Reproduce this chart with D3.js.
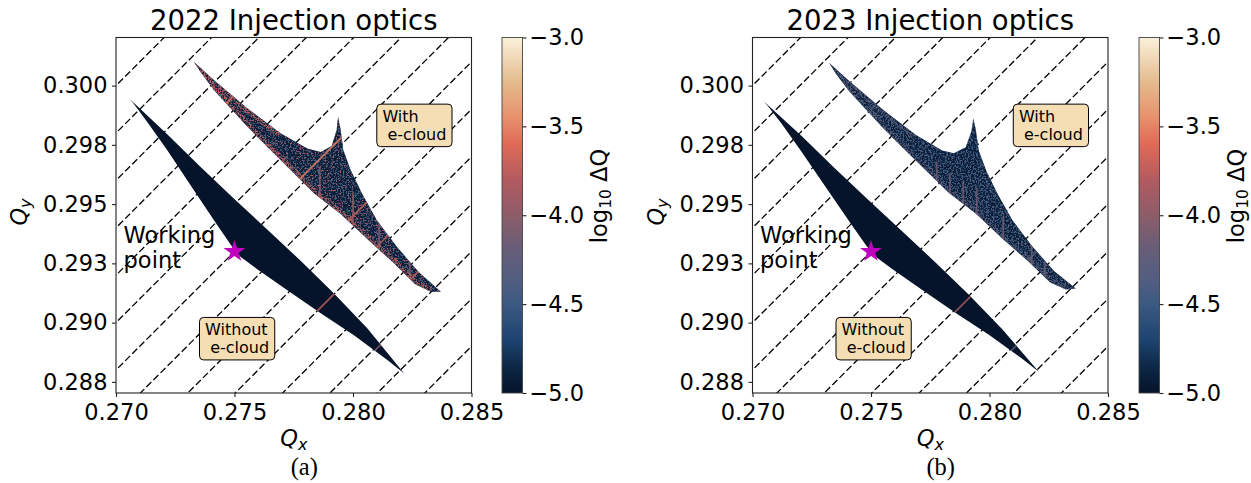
<!DOCTYPE html>
<html>
<head>
<meta charset="utf-8">
<script src="https://cdn.jsdelivr.net/npm/d3@7"></script>
<style>
  body { margin: 0; background: #fff; }
  text { font-family: "DejaVu Sans", sans-serif; fill: #000; }
</style>
</head>
<body>
<svg id="chart" width="1251" height="483"></svg>
<script>
// ---- ticks ----
const xTicks = [0.270, 0.275, 0.280, 0.285];
const xTickLabels = ["0.270", "0.275", "0.280", "0.285"];
const yTicks = [0.2875, 0.2900, 0.2925, 0.2950, 0.2975, 0.3000];
const yTickLabels = ["0.288", "0.290", "0.293", "0.295", "0.298", "0.300"];
const cbarTicks = [-5.0, -4.5, -4.0, -3.5, -3.0];
const cbarTickLabels = ["\u22125.0", "\u22124.5", "\u22124.0", "\u22123.5", "\u22123.0"];

// ---- colormap (log10 dQ -> colour) ----
const cmapValues = [-5.0, -4.85, -4.7, -4.5, -4.35, -4.2, -4.0, -3.8, -3.6, -3.45, -3.25, -3.0];
const cmapColors = ["#05142a", "#0d2846", "#1d4470", "#3c5980", "#535e80", "#665d79",
                    "#8c5d69", "#b35a5f", "#df6a57", "#e8906c", "#e4bb8d", "#fbf1dc"];

// ---- diagonal resonance lines Qy = Qx + c ----
const resonanceC = [0.004, 0.006, 0.008, 0.010, 0.012, 0.014, 0.016, 0.018,
                    0.020, 0.022, 0.024, 0.026, 0.028, 0.030];

const workingPoint = [0.275, 0.293];

// ---- footprint outlines (Qx, Qy) ----
const noEcloud2022Qx = [0.27058, 0.27215, 0.27356, 0.27497, 0.27638, 0.27779, 0.27920, 0.28061, 0.28216,
                        0.28145, 0.28004, 0.27864, 0.27723, 0.27596, 0.27525, 0.27490, 0.27427, 0.27328,
                        0.27215, 0.27131, 0.27075];
const noEcloud2022Qy = [0.29944, 0.29796, 0.29658, 0.29524, 0.29393, 0.29261, 0.29123, 0.28975, 0.28785,
                        0.28842, 0.28947, 0.29039, 0.29137, 0.29225, 0.29278, 0.29320, 0.29412, 0.29560,
                        0.29729, 0.29848, 0.29923];
const ecloud2022Qx = [0.27328, 0.27413, 0.27554, 0.27694, 0.27807, 0.27864, 0.27910, 0.27931, 0.27937,
                      0.27948, 0.27959, 0.27990, 0.28037, 0.28100, 0.28185, 0.28278, 0.28371, 0.28328,
                      0.28261, 0.28173, 0.28066, 0.27948, 0.27835, 0.27723, 0.27638, 0.27554, 0.27483,
                      0.27413, 0.27356];
const ecloud2022Qy = [0.30101, 0.30024, 0.29905, 0.29799, 0.29735, 0.29720, 0.29745, 0.29813, 0.29868,
                      0.29813, 0.29728, 0.29644, 0.29547, 0.29433, 0.29320, 0.29213, 0.29130, 0.29130,
                      0.29163, 0.29250, 0.29348, 0.29458, 0.29546, 0.29658, 0.29742, 0.29827, 0.29905,
                      0.29982, 0.30058];

const noEcloud2023Qx = [0.27046, 0.27205, 0.27346, 0.27488, 0.27629, 0.27770, 0.27912, 0.28054, 0.28209,
                        0.28138, 0.27996, 0.27856, 0.27715, 0.27588, 0.27517, 0.27482, 0.27418, 0.27318,
                        0.27204, 0.27120, 0.27063];
const noEcloud2023Qy = [0.29935, 0.29790, 0.29652, 0.29518, 0.29388, 0.29256, 0.29119, 0.28972, 0.28792,
                        0.28847, 0.28950, 0.29042, 0.29139, 0.29227, 0.29280, 0.29322, 0.29413, 0.29558,
                        0.29725, 0.29843, 0.29916];
const ecloud2023Qx = [0.27324, 0.27408, 0.27548, 0.27688, 0.27800, 0.27850, 0.27900, 0.27924, 0.27932,
                      0.27943, 0.27955, 0.27987, 0.28033, 0.28096, 0.28180, 0.28272, 0.28364, 0.28322,
                      0.28255, 0.28168, 0.28060, 0.27942, 0.27828, 0.27716, 0.27632, 0.27548, 0.27478,
                      0.27408, 0.27352];
const ecloud2023Qy = [0.30095, 0.30019, 0.29900, 0.29793, 0.29726, 0.29715, 0.29740, 0.29808, 0.29862,
                      0.29808, 0.29724, 0.29640, 0.29545, 0.29433, 0.29322, 0.29218, 0.29144, 0.29140,
                      0.29170, 0.29255, 0.29350, 0.29460, 0.29548, 0.29658, 0.29740, 0.29824, 0.29900,
                      0.29976, 0.30050];

// ---- high diffusion streaks: [qx1, qy1, qx2, qy2, log10 dQ] ----
const streaks2022 = [
    [0.2775, 0.2958, 0.2797, 0.2980, -3.5],
    [0.2745, 0.2991, 0.2756, 0.3002, -3.6],
    [0.2795, 0.2940, 0.2812, 0.2957, -3.65],
    [0.2807, 0.2929, 0.2822, 0.2944, -3.8],
    [0.2820, 0.2914, 0.2834, 0.2928, -3.7],
    [0.2765, 0.2963, 0.2772, 0.2970, -3.9],
    [0.2786, 0.2944, 0.2786, 0.2966, -4.0],
    [0.2800, 0.2935, 0.2800, 0.2955, -3.9],
    [0.2811, 0.2925, 0.2811, 0.2945, -4.0],
    [0.2824, 0.2918, 0.2824, 0.2930, -4.0],
    [0.2784, 0.2904, 0.2794, 0.2914, -3.7],
    [0.2807, 0.2886, 0.2814, 0.2893, -4.0]
];
const streaks2023 = [
    [0.27777, 0.2958, 0.27777, 0.2968, -4.1],
    [0.27833, 0.2952, 0.27833, 0.2963, -4.15],
    [0.27889, 0.2947, 0.27889, 0.2960, -4.1],
    [0.27946, 0.2944, 0.27946, 0.2957, -4.15],
    [0.28058, 0.2933, 0.28058, 0.2945, -4.1],
    [0.28178, 0.2923, 0.28178, 0.2933, -4.1],
    [0.28234, 0.2918, 0.28234, 0.2926, -4.2],
    [0.2815, 0.2925, 0.2825, 0.2935, -4.2],
    [0.2750, 0.2990, 0.2760, 0.3000, -4.3],
    [0.2783, 0.2902, 0.2793, 0.2912, -3.8],
    [0.2808, 0.2887, 0.2813, 0.2892, -4.3]
];

const titles = ["2022 Injection optics", "2023 Injection optics"];
const panelTags = ["(a)", "(b)"];

// ---- layout ----
const plotSize = 355.5;
const plotTop = 37.5;
const panelLefts = [116, 752.5];
const cbarLefts = [502, 1139];
const cbarWidth = 20.5;

const svg = d3.select("#chart");
const defs = svg.append("defs");

const color = d3.scaleLinear().domain(cmapValues).range(cmapColors).clamp(true);

const panels = [
    { noQx: noEcloud2022Qx, noQy: noEcloud2022Qy, eQx: ecloud2022Qx, eQy: ecloud2022Qy,
      streaks: streaks2022, glow: -3.7, glowOpacity: 0.85,
      speck: [{ v: -4.45, seed: 3, cut: 4.1 }, { v: -3.8, seed: 11, cut: 4.9 }] },
    { noQx: noEcloud2023Qx, noQy: noEcloud2023Qy, eQx: ecloud2023Qx, eQy: ecloud2023Qy,
      streaks: streaks2023, glow: -4.2, glowOpacity: 0.65,
      speck: [{ v: -4.5, seed: 5, cut: 3.9 }, { v: -4.15, seed: 17, cut: 5.0 }] }
];

// colorbar gradient
const grad = defs.append("linearGradient").attr("id", "cmap")
    .attr("x1", 0).attr("y1", 1).attr("x2", 0).attr("y2", 0);
grad.selectAll("stop").data(cmapValues).join("stop")
    .attr("offset", d => (d + 5) / 2)
    .attr("stop-color", (d, i) => cmapColors[i]);

// grainy mask for the high diffusion edge
const grain = defs.append("filter").attr("id", "grain")
    .attr("color-interpolation-filters", "sRGB");
grain.append("feTurbulence").attr("type", "fractalNoise").attr("baseFrequency", 0.7)
    .attr("numOctaves", 2).attr("seed", 7).attr("result", "n");
grain.append("feColorMatrix").attr("in", "n").attr("type", "matrix")
    .attr("values", "0 0 0 0 0  0 0 0 0 0  0 0 0 0 0  7 0 0 0 -3.2").attr("result", "m");
grain.append("feComposite").attr("in", "SourceGraphic").attr("in2", "m").attr("operator", "in");

panels.forEach((p, i) => {
    const left = panelLefts[i];
    const x = d3.scaleLinear().domain([0.270, 0.285]).range([left, left + plotSize]);
    const y = d3.scaleLinear().domain([0.28703, 0.30203]).range([plotTop + plotSize, plotTop]);
    const shape = d3.line().x(d => x(d[0])).y(d => y(d[1])).curve(d3.curveLinearClosed);
    const edge = d3.line().x(d => x(d[0])).y(d => y(d[1]));
    const noPts = d3.zip(p.noQx, p.noQy);
    const ePts = d3.zip(p.eQx, p.eQy);
    // lower-left edge of the e-cloud footprint, round to the tip of the upper arm
    const lowerEdge = ePts.slice(17).concat(ePts.slice(0, 4));

    // clip paths
    defs.append("clipPath").attr("id", "area" + i).append("rect")
        .attr("x", left).attr("y", plotTop).attr("width", plotSize).attr("height", plotSize);
    const fpClip = defs.append("clipPath").attr("id", "fp" + i);
    fpClip.append("path").attr("d", shape(noPts));
    fpClip.append("path").attr("d", shape(ePts));
    defs.append("clipPath").attr("id", "ecl" + i).append("path").attr("d", shape(ePts));

    // speckle filter (scattered particles) for the e-cloud footprint
    const f = defs.append("filter").attr("id", "speck" + i)
        .attr("color-interpolation-filters", "sRGB")
        .attr("x", 0).attr("y", 0).attr("width", 1).attr("height", 1);
    const merge = [];
    p.speck.forEach((s, k) => {
        const c = d3.rgb(color(s.v));
        f.append("feTurbulence").attr("type", "fractalNoise").attr("baseFrequency", 0.6)
            .attr("numOctaves", 2).attr("seed", s.seed).attr("result", "n" + k);
        f.append("feColorMatrix").attr("in", "n" + k).attr("type", "matrix")
            .attr("values", `0 0 0 0 ${c.r / 255} 0 0 0 0 ${c.g / 255} 0 0 0 0 ${c.b / 255} 8 0 0 0 -${s.cut}`)
            .attr("result", "c" + k);
        f.append("feComposite").attr("in", "c" + k).attr("in2", "SourceGraphic")
            .attr("operator", "in").attr("result", "s" + k);
        merge.push("s" + k);
    });
    const fm = f.append("feMerge");
    fm.append("feMergeNode").attr("in", "SourceGraphic");
    merge.forEach(m => fm.append("feMergeNode").attr("in", m));

    const g = svg.append("g");

    // resonance lines
    g.append("g").attr("clip-path", `url(#area${i})`)
        .selectAll("line").data(resonanceC).join("line")
        .attr("x1", x(0.268)).attr("y1", c => y(0.268 + c))
        .attr("x2", x(0.287)).attr("y2", c => y(0.287 + c))
        .attr("stroke", "#000").attr("stroke-width", 1.3)
        .attr("stroke-dasharray", "7,3");

    // footprints
    g.append("path").attr("d", shape(noPts)).attr("fill", color(-5));
    g.append("path").attr("d", shape(ePts)).attr("fill", color(-4.92))
        .attr("filter", `url(#speck${i})`);
    g.append("g").attr("clip-path", `url(#ecl${i})`)
        .append("path").attr("d", edge(lowerEdge)).attr("fill", "none")
        .attr("filter", "url(#grain)")
        .attr("stroke", color(p.glow)).attr("stroke-opacity", p.glowOpacity)
        .attr("stroke-width", 9).attr("stroke-linejoin", "round");

    g.append("g").attr("clip-path", `url(#fp${i})`)
        .selectAll("line").data(p.streaks).join("line")
        .attr("x1", d => x(d[0])).attr("y1", d => y(d[1]))
        .attr("x2", d => x(d[2])).attr("y2", d => y(d[3]))
        .attr("stroke", d => color(d[4])).attr("stroke-width", 1.8)
        .attr("stroke-opacity", 0.8);

    // label boxes
    const boxes = [
        { lines: ["With", " e-cloud"], qx: 0.28124, qy: 0.29848 },
        { lines: ["Without", " e-cloud"], qx: 0.27376, qy: 0.28948 }
    ];
    boxes.forEach(b => {
        const bg = g.append("g");
        const rect = bg.append("rect");
        const t = bg.append("text").attr("font-size", 16).style("white-space", "pre");
        b.lines.forEach((l, k) => {
            t.append("tspan").attr("x", x(b.qx)).attr("y", y(b.qy) + k * 18).text(l);
        });
        const bb = t.node().getBBox();
        rect.attr("x", bb.x - 5.6).attr("width", bb.width + 11.2)
            .attr("y", y(b.qy) - 17.5).attr("height", 42.5)
            .attr("rx", 4).attr("fill", "#f5deb3").attr("stroke", "#000").attr("stroke-width", 1);
    });

    // working point
    const wt = g.append("text").attr("font-size", 22.5);
    ["Working", "point"].forEach((l, k) => {
        wt.append("tspan").attr("x", x(0.27032)).attr("y", y(0.29335) + k * 25).text(l);
    });
    g.append("path")
        .attr("d", d3.symbol(d3.symbolStar, 150)())
        .attr("transform", `translate(${x(workingPoint[0])},${y(workingPoint[1])})`)
        .attr("fill", "#bf00bf");

    // frame
    g.append("rect").attr("x", left).attr("y", plotTop)
        .attr("width", plotSize).attr("height", plotSize)
        .attr("fill", "none").attr("stroke", "#222").attr("stroke-width", 1.1);

    // axes
    const xa = g.append("g").attr("transform", `translate(0,${plotTop + plotSize})`)
        .call(d3.axisBottom(x).tickValues(xTicks).tickFormat((d, k) => xTickLabels[k])
            .tickSize(4).tickPadding(6.7));
    const ya = g.append("g").attr("transform", `translate(${left},0)`)
        .call(d3.axisLeft(y).tickValues(yTicks).tickFormat((d, k) => yTickLabels[k])
            .tickSize(4).tickPadding(4.5));
    [xa, ya].forEach(a => {
        a.select(".domain").remove();
        a.attr("font-family", null).attr("font-size", null);
        a.selectAll("text").attr("font-size", 22.5).attr("fill", "#000");
        a.selectAll("line").attr("stroke", "#222").attr("stroke-width", 1.1);
    });

    // axis labels
    const cx = left + plotSize / 2;
    const xl = g.append("text").attr("x", cx).attr("y", 446).attr("text-anchor", "middle")
        .attr("font-size", 22.5);
    xl.append("tspan").attr("font-style", "italic").text("Q");
    xl.append("tspan").attr("font-style", "italic").attr("font-size", 16).attr("dy", 4).text("x");

    const yl = g.append("text").attr("transform", `translate(${left - 89},${212}) rotate(-90)`)
        .attr("text-anchor", "middle").attr("font-size", 22.5);
    yl.append("tspan").attr("font-style", "italic").text("Q");
    yl.append("tspan").attr("font-style", "italic").attr("font-size", 16).attr("dy", 4).text("y");

    // title & tag
    g.append("text").attr("x", cx).attr("y", 29.5).attr("text-anchor", "middle")
        .attr("font-size", 27.5).text(titles[i]);
    g.append("text").attr("x", cx + 10.5).attr("y", 475).attr("text-anchor", "middle")
        .style("font-family", "'Liberation Serif', serif")
        .attr("font-size", 24.5).text(panelTags[i]);

    // colorbar
    const cl = cbarLefts[i];
    const cy = d3.scaleLinear().domain([-5, -3]).range([plotTop + plotSize, plotTop]);
    g.append("rect").attr("x", cl).attr("y", plotTop).attr("width", cbarWidth).attr("height", plotSize)
        .attr("fill", "url(#cmap)").attr("stroke", "#444").attr("stroke-width", 0.9);
    const ca = g.append("g").attr("transform", `translate(${cl + cbarWidth},0)`)
        .call(d3.axisRight(cy).tickValues(cbarTicks).tickFormat((d, k) => cbarTickLabels[k])
            .tickSize(4).tickPadding(3));
    ca.select(".domain").remove();
    ca.attr("font-family", null).attr("font-size", null);
    ca.selectAll("text").attr("font-size", 22.5).attr("fill", "#000");
    ca.selectAll("line").attr("stroke", "#222").attr("stroke-width", 1.1);

    const cbl = g.append("text")
        .attr("transform", `translate(${cl + cbarWidth + 84.5},196) rotate(-90)`)
        .attr("text-anchor", "middle").attr("font-size", 22.5);
    cbl.append("tspan").text("log");
    cbl.append("tspan").attr("font-size", 15.5).attr("dy", 4).text("10");
    cbl.append("tspan").attr("dy", -4).text(" \u0394Q");
});
</script>
</body>
</html>
